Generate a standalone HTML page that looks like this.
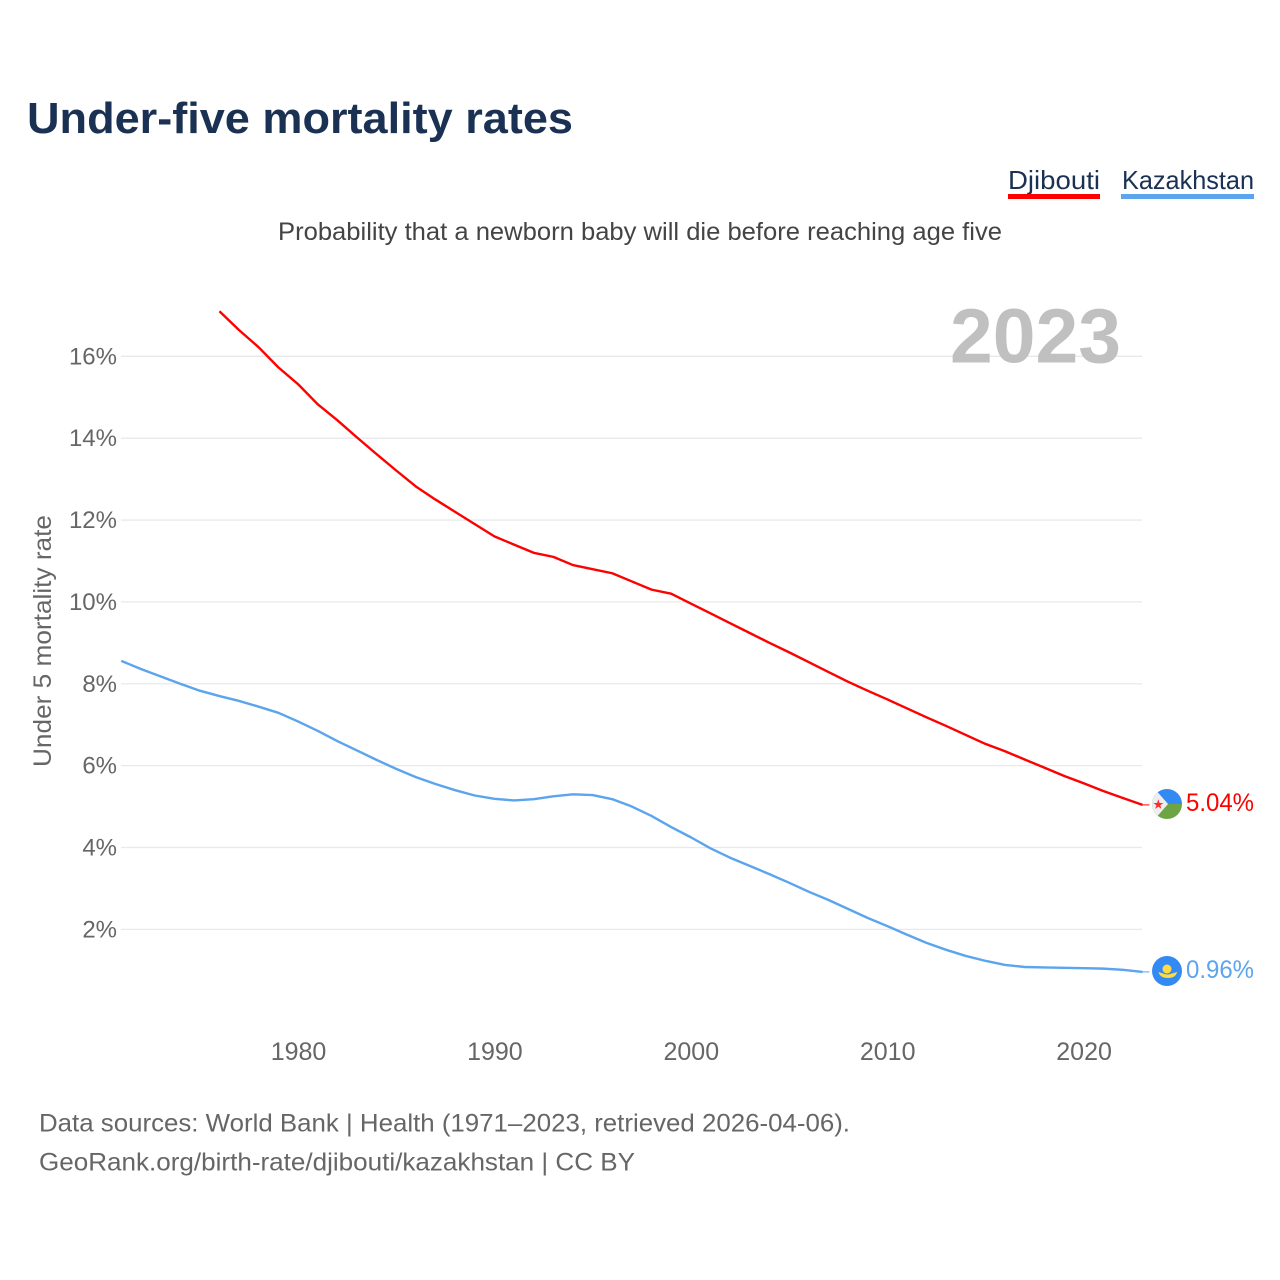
<!DOCTYPE html>
<html lang="en">
<head>
<meta charset="utf-8">
<title>Under-five mortality rates</title>
<style>
html,body{margin:0;padding:0;background:#fff;width:1280px;height:1280px;overflow:hidden}
svg{display:block;font-family:"Liberation Sans",sans-serif}
</style>
</head>
<body>
<svg id="chart" xmlns="http://www.w3.org/2000/svg" width="1280" height="1280" viewBox="0 0 1280 1280">
  <rect width="1280" height="1280" fill="#fff"/>
  <text x="27" y="133" font-size="44" font-weight="700" fill="#1a3153" textLength="546" lengthAdjust="spacingAndGlyphs">Under-five mortality rates</text>
  <text x="1008" y="189" font-size="26" fill="#1a3153" textLength="92" lengthAdjust="spacingAndGlyphs">Djibouti</text>
  <rect x="1008" y="194" width="92" height="5" fill="#ff0000"/>
  <text x="1122" y="189" font-size="26" fill="#1a3153" textLength="132" lengthAdjust="spacingAndGlyphs">Kazakhstan</text>
  <rect x="1121" y="194" width="133" height="5" fill="#5ba4ee"/>
  <text x="278" y="240" font-size="25" fill="#444" textLength="724" lengthAdjust="spacingAndGlyphs">Probability that a newborn baby will die before reaching age five</text>
  <g id="grid"></g>
  <text x="950" y="362.500" font-size="77" font-weight="700" fill="#c0c0c0" textLength="171" lengthAdjust="spacingAndGlyphs">2023</text>
  <text transform="translate(51,767) rotate(-90)" font-size="25" fill="#666" textLength="252" lengthAdjust="spacingAndGlyphs">Under 5 mortality rate</text>
  <g id="yticks"></g>
  <g id="xticks"></g>
  <g id="series"></g>

  <g id="flag-dj">
    <clipPath id="clip-dj"><circle cx="1167" cy="804" r="15"/></clipPath>
    <g clip-path="url(#clip-dj)">
      <rect x="1152" y="789" width="30" height="15" fill="#338af3"/>
      <rect x="1152" y="804" width="30" height="15" fill="#6da544"/>
      <polygon points="1147,780 1168,804 1147,828" fill="#eeeeee"/>
    </g>
    <polygon points="1158.300,799.300 1159.500,803 1163.300,803 1160.200,805.200 1161.400,808.900 1158.300,806.600 1155.200,808.900 1156.400,805.200 1153.300,803 1157.100,803" fill="#ff2a2a"/>
  </g>
  <g id="flag-kz">
    <circle cx="1167" cy="971" r="15" fill="#338af3"/>
    <circle cx="1167" cy="969" r="4.500" fill="#ffda44"/>
    <path d="M1158.500 972 L1163 973.500 Q1167.500 975.500 1172 973.500 L1177 972 Q1176 978 1167.700 978 Q1160 978 1158.500 972z" fill="#ffda44"/>
  </g>

  <text id="label-dj" x="1186" y="811" font-size="25" fill="#ff0000" textLength="68" lengthAdjust="spacingAndGlyphs">5.04%</text>
  <text id="label-kz" x="1186" y="978" font-size="25" fill="#5ba4ee" textLength="68" lengthAdjust="spacingAndGlyphs">0.96%</text>

  <text x="39" y="1131.500" font-size="25" fill="#666" textLength="811" lengthAdjust="spacingAndGlyphs">Data sources: World Bank | Health (1971–2023, retrieved 2026-04-06).</text>
  <text x="39" y="1170.500" font-size="25" fill="#666" textLength="596" lengthAdjust="spacingAndGlyphs">GeoRank.org/birth-rate/djibouti/kazakhstan | CC BY</text>
</svg>
<script>
const yTickValues = [2, 4, 6, 8, 10, 12, 14, 16];
const xTickYears = [1980, 1990, 2000, 2010, 2020];
const djiboutiStartYear = 1976;
const djiboutiValues = [17.1, 16.64, 16.22, 15.73, 15.32, 14.83, 14.44, 14.02, 13.61, 13.21, 12.82, 12.5, 12.2, 11.9, 11.6, 11.4, 11.2, 11.1, 10.9, 10.8, 10.7, 10.5, 10.3, 10.2, 9.96, 9.72, 9.48, 9.24, 9.0, 8.77, 8.53, 8.29, 8.05, 7.83, 7.62, 7.4, 7.18, 6.97, 6.75, 6.53, 6.35, 6.15, 5.95, 5.75, 5.57, 5.38, 5.21, 5.04];
const kazakhstanStartYear = 1971;
const kazakhstanValues = [8.56, 8.36, 8.18, 8.0, 7.83, 7.7, 7.58, 7.44, 7.29, 7.08, 6.85, 6.6, 6.37, 6.14, 5.92, 5.72, 5.55, 5.4, 5.27, 5.19, 5.15, 5.18, 5.25, 5.3, 5.28, 5.18, 5.0, 4.77, 4.5, 4.25, 3.98, 3.75, 3.55, 3.35, 3.14, 2.92, 2.72, 2.5, 2.28, 2.08, 1.87, 1.67, 1.5, 1.35, 1.23, 1.13, 1.08, 1.07, 1.06, 1.05, 1.04, 1.01, 0.96];

const SVGNS = 'http://www.w3.org/2000/svg';
const xScale = function (year) { return 298 + (year - 1980) * 19.64; };
const yScale = function (v) { return 1011.2 - v * 40.93; };

const grid = document.getElementById('grid');
const yticks = document.getElementById('yticks');
const xticks = document.getElementById('xticks');
const series = document.getElementById('series');

yTickValues.forEach(function (v) {
  const line = document.createElementNS(SVGNS, 'line');
  
  
  line.setAttribute('x1', 121);
  line.setAttribute('x2', 1142);
  line.setAttribute('y1', yScale(v));
  line.setAttribute('y2', yScale(v));
  line.setAttribute('stroke', '#e9e9e9');
  line.setAttribute('stroke-width', 1.3);
  grid.appendChild(line);

  const t = document.createElementNS(SVGNS, 'text');
  
  
  t.setAttribute('x', 117);
  t.setAttribute('y', yScale(v) + 8);
  t.setAttribute('text-anchor', 'end');
  t.setAttribute('font-size', 24);
  t.setAttribute('fill', '#666');
  t.textContent = v + '%';
  yticks.appendChild(t);
});

xTickYears.forEach(function (yr) {
  const t = document.createElementNS(SVGNS, 'text');
  
  
  t.setAttribute('x', xScale(yr) + 0.5);
  t.setAttribute('y', 1060);
  t.setAttribute('text-anchor', 'middle');
  t.setAttribute('font-size', 25);
  t.setAttribute('fill', '#666');
  t.textContent = String(yr);
  xticks.appendChild(t);
});

function linePoints(startYear, values) {
  return values.map(function (v, i) {
    return xScale(startYear + i).toFixed(2) + ',' + yScale(v).toFixed(2);
  }).join(' ');
}

const djiboutiLine = document.createElementNS(SVGNS, 'polyline');


djiboutiLine.setAttribute('points', linePoints(djiboutiStartYear, djiboutiValues));
djiboutiLine.setAttribute('fill', 'none');
djiboutiLine.setAttribute('stroke', '#ff0000');
djiboutiLine.setAttribute('stroke-width', 2.4);
djiboutiLine.setAttribute('stroke-linejoin', 'round');
series.appendChild(djiboutiLine);

const kazakhstanLine = document.createElementNS(SVGNS, 'polyline');


kazakhstanLine.setAttribute('points', linePoints(kazakhstanStartYear, kazakhstanValues));
kazakhstanLine.setAttribute('fill', 'none');
kazakhstanLine.setAttribute('stroke', '#5ba4ee');
kazakhstanLine.setAttribute('stroke-width', 2.4);
kazakhstanLine.setAttribute('stroke-linejoin', 'round');
series.appendChild(kazakhstanLine);

const lastDj = djiboutiValues[djiboutiValues.length - 1];
const lastKz = kazakhstanValues[kazakhstanValues.length - 1];

const djLeader = document.createElementNS(SVGNS, 'line');


djLeader.setAttribute('x1', xScale(2023));
djLeader.setAttribute('x2', 1149.5);
djLeader.setAttribute('y1', yScale(lastDj));
djLeader.setAttribute('y2', yScale(lastDj));
djLeader.setAttribute('stroke', '#ff0000');
djLeader.setAttribute('stroke-width', 1);
series.appendChild(djLeader);

const kzLeader = document.createElementNS(SVGNS, 'line');


kzLeader.setAttribute('x1', xScale(2023));
kzLeader.setAttribute('x2', 1149.5);
kzLeader.setAttribute('y1', yScale(lastKz));
kzLeader.setAttribute('y2', yScale(lastKz));
kzLeader.setAttribute('stroke', '#5ba4ee');
kzLeader.setAttribute('stroke-width', 1);
series.appendChild(kzLeader);

document.getElementById('label-dj').textContent = lastDj.toFixed(2) + '%';
document.getElementById('label-kz').textContent = lastKz.toFixed(2) + '%';
</script>
</body>
</html>
